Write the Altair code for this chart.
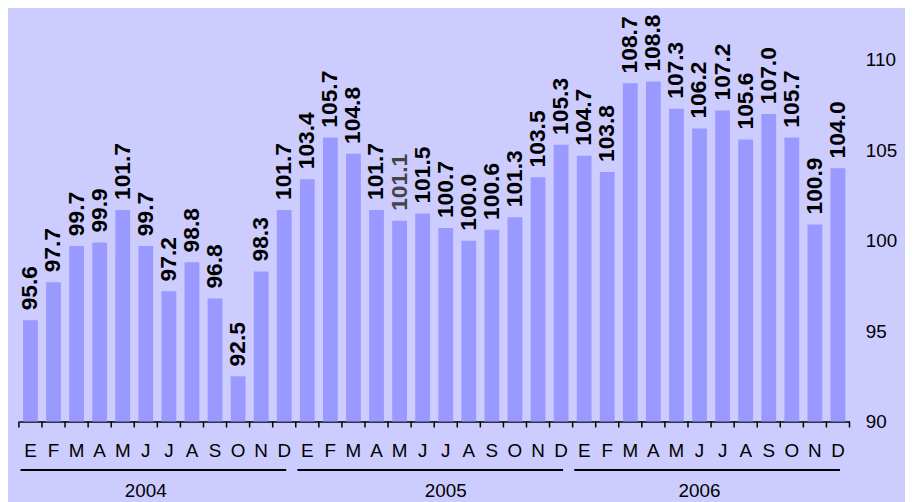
import altair as alt
import pandas as pd

months = ["E", "F", "M", "A", "M", "J", "J", "A", "S", "O", "N", "D"]
years = ["2004", "2005", "2006"]
values_2004 = [95.6, 97.7, 99.7, 99.9, 101.7, 99.7, 97.2, 98.8, 96.8, 92.5, 98.3, 101.7]
values_2005 = [103.4, 105.7, 104.8, 101.7, 101.1, 101.5, 100.7, 100.0, 100.6, 101.3, 103.5, 105.3]
values_2006 = [104.7, 103.8, 108.7, 108.8, 107.3, 106.2, 107.2, 105.6, 107.0, 105.7, 100.9, 104.0]
year_label_month = [5, 6, 5]   # month index under which each year label sits
y_ticks = [90, 95, 100, 105, 110]

rows = []
for j, (yr, vals) in enumerate(zip(years, [values_2004, values_2005, values_2006])):
    for i, (m, v) in enumerate(zip(months, vals)):
        rows.append({
            "key": f"{yr}-{i + 1:02d}-{m}",
            "value": v,
            "label": f"{v:.1f}",
            "year": yr,
            "first": i == 0,
            "mid": i == year_label_month[j],
            "end": f"{yr}-12-{months[11]}",
        })
df = pd.DataFrame(rows)
keys = list(df["key"])
last_key = keys[-1]

FONT = "Liberation Sans"
STEP = 838 / 36
xscale = alt.Scale(domain=keys, paddingInner=0.36, paddingOuter=0.18)
yscale = alt.Scale(domain=[90, 112.47], nice=False, zero=False)

x_axis = alt.Axis(
    title=None, labelAngle=0, labelExpr="slice(datum.value, 8)",
    labelFont=FONT, labelFontSize=19, labelColor="black", labelPadding=20,
    ticks=False, domainColor="black", domainWidth=1.5, grid=False,
    labelOverlap=False, labelFlush=False,
)
y_axis = alt.Axis(
    title=None, orient="right", values=y_ticks, domain=False, ticks=False,
    grid=False, labelFont=FONT, labelFontSize=19, labelColor="black",
    labelPadding=16,
)

base = alt.Chart(df)
bars = base.mark_bar(color="#9999ff").encode(
    x=alt.X("key:N", scale=xscale, axis=x_axis),
    y=alt.Y("value:Q", scale=yscale, axis=y_axis),
    y2=alt.datum(90),
)
labels = base.mark_text(
    angle=270, align="left", baseline="middle", dx=10,
    font=FONT, fontSize=23, fontWeight="bold",
).encode(
    x=alt.X("key:N"),
    y=alt.Y("value:Q"),
    text="label:N",
    color=alt.condition("datum.key == '2005-05-M'", alt.value("#444444"), alt.value("black")),
)
ticks = base.mark_rule(color="black", strokeWidth=1.5, xOffset=-STEP / 2).encode(
    x=alt.X("key:N"),
    y=alt.value(410),
    y2=alt.value(416),
)
end_tick = base.transform_filter(f"datum.key == '{last_key}'").mark_rule(
    color="black", strokeWidth=1.5, xOffset=STEP / 2
).encode(
    x=alt.X("key:N"),
    y=alt.value(410),
    y2=alt.value(416),
)
rules = base.transform_filter("datum.first").mark_rule(
    color="black", strokeWidth=2, xOffset=-10, x2Offset=2
).encode(
    x=alt.X("key:N"),
    x2=alt.X2("end:N"),
    y=alt.value(459),
)
ytext = base.transform_filter("datum.mid").mark_text(
    font=FONT, fontSize=19, baseline="middle", color="black"
).encode(
    x=alt.X("key:N"),
    y=alt.value(480),
    text="year:N",
)

chart = alt.layer(bars, labels, ticks, end_tick, rules, ytext).properties(
    width=838, height=410,
    autosize=alt.AutoSizeParams(type="none"),
    padding={"left": 11, "top": 5, "right": 56, "bottom": 79},
    background="#ccccff",
).configure_view(stroke=None)

chart.save("out.html", embed_options={"renderer": "svg", "actions": False})
